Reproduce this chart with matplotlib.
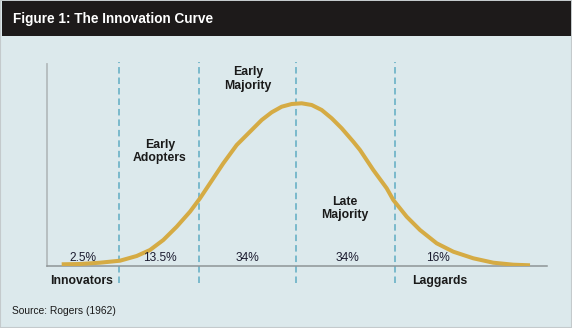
import matplotlib
matplotlib.use("Agg")
import matplotlib.pyplot as plt
from matplotlib.patches import Rectangle

# ---- data ----
curve_x = [14.7, 33, 53, 73, 89.7, 103, 116.3, 129.7, 143, 153, 163, 176.3, 189.7,
           204.7, 214.7, 224.7, 234.7, 244.7, 254.7, 264.7, 274.7, 284.7, 294.7,
           306.3, 313, 326.3, 339.7, 346.3, 359.7, 373, 389.7, 406.3, 426.3,
           446.3, 466.3, 483]
curve_y = [1.7, 2, 3.3, 5.3, 10, 16, 26, 39.3, 54.3, 67.7, 82.7, 102.7, 121,
           136, 146, 153.7, 159.3, 162, 162.7, 161, 156, 147.7, 137.7,
           124.3, 116, 96, 77.7, 66, 49.3, 36, 22.7, 14.3, 7.7,
           3.3, 1.3, 0.7]
divider_x = [72, 152, 249, 348]
segment_pcts = ["2.5%", "13.5%", "34%", "34%", "16%"]
category_names = ["Innovators", "Early\nAdopters", "Early\nMajority", "Late\nMajority", "Laggards"]
title = "Figure 1: The Innovation Curve"
source = "Source: Rogers (1962)"

# ---- styling ----
BG = "#dce9ec"
BAR = "#1d1a1a"
CURVE = "#d5ab44"
DASH = "#72b5c9"
TXT = "#1a1a1a"
FONT = ["Liberation Sans", "DejaVu Sans"]
plt.rcParams["font.family"] = FONT

W, H = 572, 328
fig = plt.figure(figsize=(W / 100, H / 100), dpi=100, facecolor=BG)

# title bar and thin frame
fig.patches.append(Rectangle((0, 0), 1, 1, transform=fig.transFigure,
                             facecolor="none", edgecolor="#c4cacc", linewidth=1.5))
fig.patches.append(Rectangle((1.5 / W, 1 - 36 / H), 1 - 3 / W, 35 / H,
                             transform=fig.transFigure, facecolor=BAR, edgecolor="none"))
fig.text(13 / W, 1 - 19.5 / H, title, color="white", fontsize=9.8,
         fontweight="bold", ha="left", va="center")

# axes region
ax_left, ax_right, ax_top, ax_bottom = 47, 547, 64, 266
ax = fig.add_axes([ax_left / W, 1 - ax_bottom / H,
                   (ax_right - ax_left) / W, (ax_bottom - ax_top) / H])
ax.set_facecolor("none")
ax.set_xlim(0, ax_right - ax_left)
ax.set_ylim(0, ax_bottom - ax_top)
for s in ["top", "right"]:
    ax.spines[s].set_visible(False)
ax.spines["left"].set_color("#b4bbbd")
ax.spines["left"].set_linewidth(1.3)
ax.spines["bottom"].set_color("#8e9597")
ax.spines["bottom"].set_linewidth(1.1)
ax.set_xticks([])
ax.set_yticks([])

# dividers
ymin_frac = (ax_bottom - 283) / (ax_bottom - ax_top)
ymax_frac = (ax_bottom - 62) / (ax_bottom - ax_top)
for xv in divider_x:
    ax.axvline(xv, ymin=ymin_frac, ymax=ymax_frac, color=DASH, linewidth=1.3,
               linestyle=(0, (3.6, 2.2)), clip_on=False, zorder=1)

# curve
ax.plot(curve_x, curve_y, color=CURVE, linewidth=2.9, solid_capstyle="butt",
        solid_joinstyle="round", zorder=3)

# percentages
pct_x = [35.5, 113, 200, 300.5, 390.5]
for xv, t in zip(pct_x, segment_pcts):
    ax.text(xv, 7.7, t, ha="center", va="center", fontsize=8.6, color="#1c1c30",
            zorder=4)

# category labels
label_pos = [(35, -14.7), (113, 114.3), (201, 187), (298, 57.3), (393, -14.7)]
for (xv, yv), t in zip(label_pos, category_names):
    ax.text(xv, yv, t, ha="center", va="center", fontsize=8.8, fontweight="bold",
            color=TXT, linespacing=1.15, clip_on=False, zorder=4)

fig.text(12 / W, 1 - 311 / H, source, ha="left", va="center", fontsize=7.4,
         color=TXT)

fig.savefig("out.png", dpi=100, facecolor=BG)
